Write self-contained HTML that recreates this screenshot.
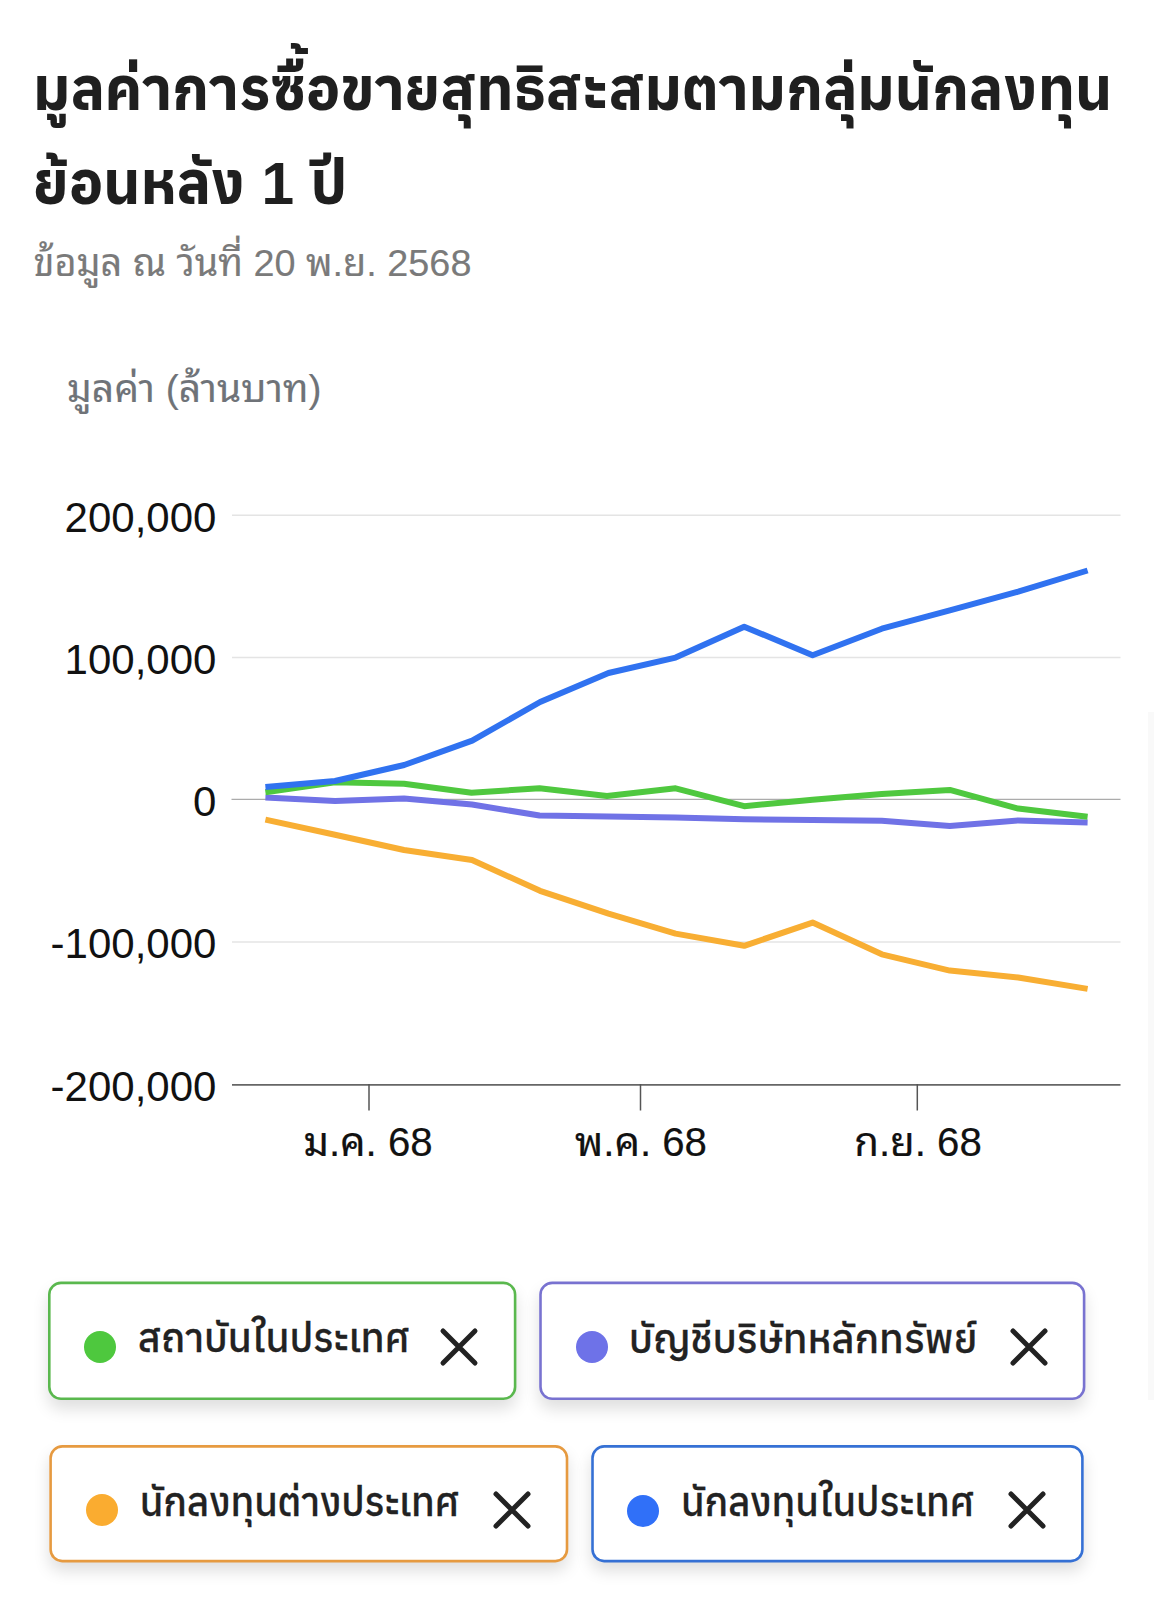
<!DOCTYPE html>
<html lang="th">
<head>
<meta charset="utf-8">
<title>มูลค่าการซื้อขายสุทธิสะสมตามกลุ่มนักลงทุน</title>
<style>
html,body{margin:0;padding:0;background:#fff;}
body{width:1155px;height:1600px;position:relative;overflow:hidden;
  font-family:"Liberation Sans","Noto Sans Thai Looped","IBM Plex Sans Thai Looped","Noto Sans Thai","Sarabun","Loma","Noto Sans Thai UI","Tahoma",sans-serif;}
.abs{position:absolute;white-space:nowrap;}
.h{font-family:"Liberation Sans","Anuphan","IBM Plex Sans Thai","Noto Sans Thai","Prompt","Kanit","Sarabun","Loma","Tahoma",sans-serif;font-weight:700;color:#1f1f1f;font-size:58.65px;line-height:93.5px;left:33px;top:43.4px;margin:0;}
.sub{left:33.5px;top:235px;font-size:37.8px;-webkit-text-stroke:0.15px #7a7a7a;line-height:56px;color:#7a7a7a;}
.unit{left:67px;top:361px;-webkit-text-stroke:0.15px #6f7378;font-size:39px;line-height:56px;color:#6f7378;}
.yl{right:938.6px;font-size:42px;line-height:40px;color:#111;text-align:right;}
.xl{font-size:40.2px;line-height:40px;color:#111;transform:translateX(-50%);top:1123px;-webkit-text-stroke:0.2px #111;}
.chip{position:absolute;box-sizing:border-box;border-radius:13px;background:#fff;box-shadow:0 9px 16px rgba(0,0,0,.13);}
.dot{position:absolute;width:32px;height:32px;border-radius:50%;}
.lbl{font-family:"Liberation Sans","Anuphan","IBM Plex Sans Thai","Noto Sans Thai","Prompt","Kanit","Sarabun","Loma","Tahoma",sans-serif;font-weight:500;color:#222;line-height:60px;-webkit-text-stroke:0.3px #222;}
.x{position:absolute;width:42px;height:42px;}
.edge{position:absolute;left:1147.5px;top:712px;width:6.5px;height:688px;background:#f9f9f9;}
</style>
</head>
<body>
<h1 class="abs h">มูลค่าการซื้อขายสุทธิสะสมตามกลุ่มนักลงทุน<br>ย้อนหลัง 1 ปี</h1>
<div class="abs sub">ข้อมูล ณ วันที่ 20 พ.ย. 2568</div>
<div class="abs unit">มูลค่า (ล้านบาท)</div>

<div class="edge"></div>

<svg class="abs" style="left:0;top:0" width="1155" height="1600" viewBox="0 0 1155 1600" fill="none">
  <g stroke="#e4e4e4" stroke-width="1.5">
    <line x1="232" y1="515.3" x2="1120.5" y2="515.3"/>
    <line x1="232" y1="657.4" x2="1120.5" y2="657.4"/>
    <line x1="232" y1="942" x2="1120.5" y2="942"/>
  </g>
  <line x1="231.5" y1="799.4" x2="1120.5" y2="799.4" stroke="#ababab" stroke-width="1.2"/>
  <line x1="232" y1="1084.8" x2="1120.5" y2="1084.8" stroke="#666" stroke-width="1.8"/>
  <g stroke="#555" stroke-width="1.5">
    <line x1="369" y1="1084" x2="369" y2="1110.5"/>
    <line x1="640.5" y1="1084" x2="640.5" y2="1110.5"/>
    <line x1="917.3" y1="1084" x2="917.3" y2="1110.5"/>
  </g>
  <g stroke-width="6" stroke-linejoin="round" stroke-linecap="butt">
    <polyline stroke="#F8AE33" points="265.4,819.6 335,834.7 404,850 472,860 540,890.8 608.5,913.6 675.6,933.6 744.2,945.8 812.6,922.6 881.8,954.3 949.8,970.6 1018.2,977.5 1087.6,988.9"/>
    <polyline stroke="#7072E6" points="265.4,797.6 335,800.9 404,798.4 472,804.5 539.5,815.5 608,816.6 675.6,817.4 744.2,819.2 812.6,820 881.8,820.8 949.8,826.1 1018.2,820.4 1087.6,822.5"/>
    <polyline stroke="#4FC83F" points="265.4,792.3 335,782.2 404,783.8 471.5,792.7 539.5,788.3 607,796 675.6,788.3 744.2,806.2 812.6,799.7 881.8,794 949.8,789.9 1018.2,808.6 1087.6,816.8"/>
    <polyline stroke="#3072F0" points="265.4,787 335,781 404.2,765 472.2,740.6 540.1,702 608.5,673 675.6,657.6 744.2,626.7 812.6,655.2 881.8,628.7 949.8,610.4 1018.2,591.7 1087.6,570.5"/>
  </g>
</svg>

<div class="abs yl" style="top:498px">200,000</div>
<div class="abs yl" style="top:640px">100,000</div>
<div class="abs yl" style="top:782px">0</div>
<div class="abs yl" style="top:924.2px">-100,000</div>
<div class="abs yl" style="top:1066.5px">-200,000</div>

<div class="abs xl" style="left:368px">ม.ค. 68</div>
<div class="abs xl" style="left:641px">พ.ค. 68</div>
<div class="abs xl" style="left:918px">ก.ย. 68</div>

<div class="chip" style="left:48px;top:1281.6px;width:468.4px;height:118.5px"></div>
<div class="chip" style="left:539.2px;top:1281.6px;width:546.2px;height:118.5px"></div>
<div class="chip" style="left:49.3px;top:1445.1px;width:519px;height:117.3px"></div>
<div class="chip" style="left:591.2px;top:1445.1px;width:492.5px;height:117.3px"></div>
<svg class="abs" style="left:0;top:1260px" width="1155" height="340" viewBox="0 1260 1155 340" fill="none" stroke-width="2.6"><rect x="49.3" y="1282.9" width="465.8" height="115.9" rx="11.7" stroke="#5AB84E"/><rect x="540.5" y="1282.9" width="543.6" height="115.9" rx="11.7" stroke="#7872D0"/><rect x="50.6" y="1446.4" width="516.4" height="114.7" rx="11.7" stroke="#E69A40"/><rect x="592.5" y="1446.4" width="489.9" height="114.7" rx="11.7" stroke="#3570D4"/></svg>
<span class="dot" style="left:83.6px;top:1331.0px;background:#4EC83E"></span>
<span class="abs lbl" style="left:137.8px;top:1308.5px;font-size:39px">สถาบันในประเทศ</span>
<svg class="x" style="left:438.4px;top:1326.2px" viewBox="0 0 42 42"><path d="M5 5 L37 37 M37 5 L5 37" stroke="#222" stroke-width="5" stroke-linecap="round"/></svg>
<span class="dot" style="left:576.0px;top:1331.2px;background:#6E72E8"></span>
<span class="abs lbl" style="left:628.8px;top:1308.5px;font-size:40px">บัญชีบริษัทหลักทรัพย์</span>
<svg class="x" style="left:1008.0px;top:1326.2px" viewBox="0 0 42 42"><path d="M5 5 L37 37 M37 5 L5 37" stroke="#222" stroke-width="5" stroke-linecap="round"/></svg>
<span class="dot" style="left:85.9px;top:1494.2px;background:#FAAC30"></span>
<span class="abs lbl" style="left:139.7px;top:1472.5px;font-size:38.4px">นักลงทุนต่างประเทศ</span>
<svg class="x" style="left:490.5px;top:1489.0px" viewBox="0 0 42 42"><path d="M5 5 L37 37 M37 5 L5 37" stroke="#222" stroke-width="5" stroke-linecap="round"/></svg>
<span class="dot" style="left:627.0px;top:1494.5px;background:#3070F8"></span>
<span class="abs lbl" style="left:680.9px;top:1472.5px;font-size:38.4px">นักลงทุนในประเทศ</span>
<svg class="x" style="left:1005.6px;top:1489.0px" viewBox="0 0 42 42"><path d="M5 5 L37 37 M37 5 L5 37" stroke="#222" stroke-width="5" stroke-linecap="round"/></svg>
</body>
</html>
